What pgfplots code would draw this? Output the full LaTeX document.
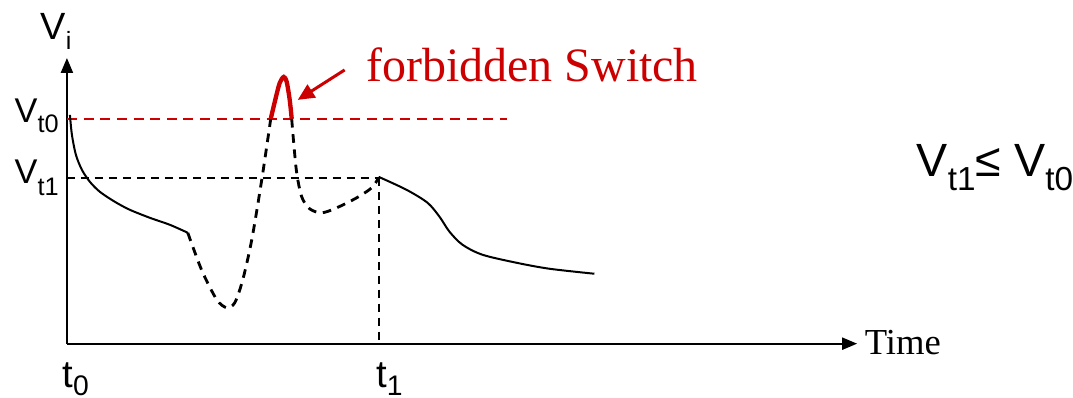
\documentclass[border=0pt]{standalone}
\usepackage{pgfplots}
\pgfplotsset{compat=1.18}
\usepackage{fontspec}
\setmainfont{Liberation Serif}
\newfontfamily\arial{Liberation Sans}
\usetikzlibrary{arrows.meta}
\definecolor{fred}{RGB}{204,0,0}
\begin{document}
\begin{tikzpicture}
\begin{axis}[
  scale only axis, width=321.9pt, height=119.4pt,
  xmin=0, xmax=1073, ymin=0, ymax=398,
  axis line style={draw=none}, xtick=\empty, ytick=\empty,
  clip=false,
]
% axes
\addplot[black, line width=0.65pt, -{Triangle[length=4.5pt,width=3.6pt]}] coordinates {(67,54) (67,340)};
\addplot[black, line width=0.65pt, -{Triangle[length=4.5pt,width=3.6pt]}] coordinates {(67,54) (858,54)};
% reference lines
\addplot[fred, line width=0.5pt, dash pattern=on 3pt off 2pt] coordinates {(67,279) (508,279)};
\addplot[black, line width=0.6pt, dash pattern=on 2.4pt off 1.8pt] coordinates {(67,220) (379,220)};
\addplot[black, line width=0.6pt, dash pattern=on 2.4pt off 1.8pt] coordinates {(379,220) (379,54)};
% solid curve 1
\addplot[black, line width=0.6pt, smooth] coordinates {(70,283) (72,263) (76,243) (82,228) (90,216) (100,206) (115,196) (130,188) (150,180) (170,173) (188,165)};
% dashed 1
\addplot[black, line width=0.85pt, smooth, dash pattern=on 2.6pt off 2pt] coordinates {(188,165) (193,151) (203,125) (217,98) (227,90) (235,95) (243,118) (252,158) (262,218) (271,279)};
% red forbidden
\addplot[fred, line width=1.3pt, smooth] coordinates {(271,279) (276,300) (280,315) (284,321) (287,316) (290,298) (292,279)};
% dashed 2
\addplot[black, line width=0.85pt, smooth, dash pattern=on 2.6pt off 2pt] coordinates {(292,279) (294,255) (297,225) (302,201) (310,189) (322,185) (337,190) (357,200) (372,210) (379,220)};
% solid 2
\addplot[black, line width=0.6pt, smooth] coordinates {(379,221) (407,208) (428,195) (440,181) (450,166) (463,153) (483,143) (517,135) (550,129) (595,124)};
% red arrow
\addplot[fred, line width=0.9pt, -{Triangle[length=5pt,width=4.5pt]}] coordinates {(345,328) (298,298)};
% labels
\node[anchor=base west, inner sep=0, text=fred, font=\fontsize{14.4}{16}\selectfont] at (axis cs:366,316) {forbidden Switch};
\node[anchor=base west, inner sep=0, font=\fontsize{11}{13}\selectfont] at (axis cs:865,43) {Time};
\node[anchor=base west, inner sep=0, font=\arial\fontsize{11.4}{13}\selectfont] at (axis cs:40,358) {V\raisebox{-3pt}{\fontsize{7.5}{8}\selectfont i}};
\node[anchor=base west, inner sep=0, font=\arial\fontsize{10.3}{11}\selectfont] at (axis cs:14,275) {V\raisebox{-3pt}{\fontsize{7.6}{8}\selectfont t0}};
\node[anchor=base west, inner sep=0, font=\arial\fontsize{10.3}{11}\selectfont] at (axis cs:14,214) {V\raisebox{-3.5pt}{\fontsize{7.6}{8}\selectfont t1}};
\node[anchor=base west, inner sep=0, font=\arial\fontsize{14}{16}\selectfont] at (axis cs:917,221) {V\raisebox{-4pt}{\fontsize{10}{11}\selectfont t1}≤ V\raisebox{-4pt}{\fontsize{10}{11}\selectfont t0}};
\node[anchor=base west, inner sep=0, font=\arial\fontsize{11.5}{13}\selectfont] at (axis cs:62,10) {t\raisebox{-2.5pt}{\fontsize{8.5}{9}\selectfont 0}};
\node[anchor=base west, inner sep=0, font=\arial\fontsize{11.5}{13}\selectfont] at (axis cs:376,10) {t\raisebox{-2.5pt}{\fontsize{8.5}{9}\selectfont 1}};
\end{axis}
\end{tikzpicture}
\end{document}
